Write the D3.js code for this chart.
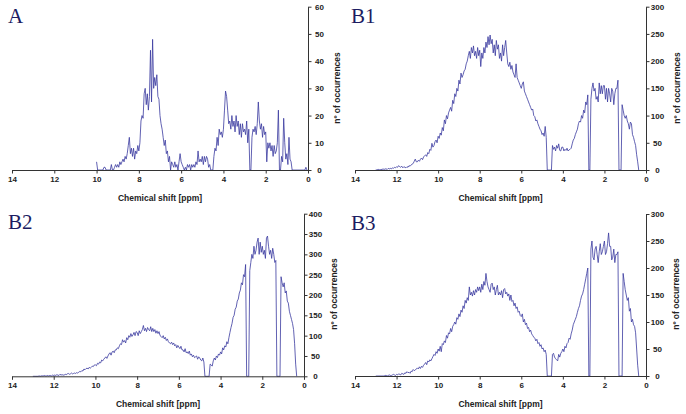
<!DOCTYPE html>
<html><head><meta charset="utf-8">
<script src="https://cdn.jsdelivr.net/npm/d3@7"></script>
<style>body{margin:0;background:#fff}svg{display:block}</style>
</head><body><svg id="c" width="686" height="414"></svg>
<script>
// ---- data ----
const ppmStep = 0.05;
const xTickLabels = [14, 12, 10, 8, 6, 4, 2, 0];
const yTicksA = [0, 10, 20, 30, 40, 50, 60];
const yTicksB1 = [0, 50, 100, 150, 200, 250, 300];
const yTicksB2 = [0, 50, 100, 150, 200, 250, 300, 350, 400];
const yTicksB3 = [0, 50, 100, 150, 200, 250, 300];
const panelLabels = ["A", "B1", "B2", "B3"];
const xTitle = "Chemical shift [ppm]";
const yTitle = "nº of occurrences";

const startA = 10.00;
const valuesA = [
 3,0,0,0,0,0,0,1,1,0, 0,0,0,0,2,0,0,1,2,1,
 2,1,3,2,3,4,3,5,4,6, 9,12,6,8,5,8,4,7,6,9,
 7,10,18,20,19,28,30,24,28,22, 27,44,25,48,30,34,31,35,27,26,
 20,17,15,12,9,11,6,7,3,5, 0,3,2,1,3,1,2,0,3,6,
 3,2,1,0,1,0,2,1,2,0, 2,1,2,1,3,2,7,3,4,3,
 5,2,5,3,5,4,1,2,0,0, 0,5,8,7,12,9,15,13,14,12,
 15,22,29,27,22,17,18,15,20,16, 18,14,20,16,18,13,17,12,17,14,
 15,13,18,10,15,0,0,12,15,14, 16,13,17,25,18,15,17,12,16,13,
 14,3,10,8,10,7,9,5,9,6, 7,10,22,0,0,5,3,19,10,4,
 6,2,12,4,3,0,0,0,0,0, 0,0,0,0,0,0,0,0,1,0
];

const startB1 = 13.00;
const valuesB1 = [
 1,0,1,1,0,1,1,2,1,2, 2,1,3,2,3,2,4,3,5,4,
 6,5,8,6,5,7,4,6,5,4, 6,5,8,7,9,11,12,16,20,15,
 15,18,16,20,22,19,24,26,28,25, 32,30,38,36,49,42,45,52,55,50,
 62,58,68,64,78,72,92,85,100,94, 105,110,115,108,128,122,140,135,150,145,
 165,158,178,170,175,182,185,195,200,210, 218,205,225,215,228,210,218,205,225,210,
 220,190,215,205,225,215,235,225,245,230, 248,232,240,215,230,210,238,222,230,205,
 215,200,230,210,225,238,215,195,190,198, 185,192,180,175,170,195,170,165,160,155,
 150,158,162,145,140,135,130,125,120,115, 110,112,100,98,90,92,85,80,75,72,
 65,68,62,80,60,0,0,0,0,0, 45,38,42,35,45,40,48,36,35,42,
 42,35,38,36,40,35,37,38,40,48, 55,58,65,70,75,85,90,88,100,95,
 110,105,125,120,138,0,0,130,150,160, 145,150,130,135,125,160,140,155,140,155,
 155,130,150,125,150,140,125,150,145,120, 140,150,150,165,0,0,0,120,110,100,
 95,100,90,85,75,88,85,65,60,52, 45,28,15,0
];

const startB2 = 13.00;
const valuesB2 = [
 0,0,0,0,0,0,1,0,1,1, 1,2,1,1,2,1,2,2,1,3,
 2,3,2,4,3,2,5,3,4,3, 3,5,4,6,7,5,6,8,6,7,
 8,7,9,8,10,12,11,14,13,18, 16,19,20,18,22,20,22,25,24,28,
 28,26,32,30,35,33,40,38,42,45, 48,44,50,55,58,52,60,62,58,65,
 65,70,68,75,80,78,90,84,88,82, 95,90,100,96,105,98,102,108,100,110,
 108,100,112,105,110,115,125,112,118,110, 120,115,112,122,110,118,110,115,106,112,
 105,110,100,98,95,100,92,96,88,92, 85,82,80,84,78,82,75,78,70,76,
 72,68,74,65,65,60,68,58,60,56, 62,52,55,48,52,46,48,50,42,48,
 45,40,38,45,35,0,0,0,0,0, 30,28,25,38,45,40,50,46,55,52,
 60,55,70,65,75,72,85,80,95,108, 120,130,145,150,165,170,185,190,205,212,
 230,225,250,245,275,0,0,0,260,280, 300,290,320,300,310,330,340,300,330,305,
 320,300,310,290,340,345,320,300,310,290, 315,300,280,285,0,0,0,0,245,230,
 220,230,205,210,185,180,160,150,140,130, 115,80,30,0
];

const startB3 = 13.00;
const valuesB3 = [
 0,0,0,0,0,0,0,0,0,1, 1,0,1,2,1,1,2,3,2,1,
 3,2,4,3,2,5,4,3,6,5, 8,6,7,5,9,8,12,10,11,13,
 15,13,17,14,18,16,20,22,25,21, 28,26,30,28,32,36,40,38,45,42,
 50,46,55,45,60,58,65,62,75,70, 80,78,88,82,92,95,100,96,108,105,
 115,110,122,118,130,125,140,135,145,140, 165,150,155,148,158,150,160,155,165,158,
 165,155,170,160,175,168,190,175,165,160, 155,170,172,160,165,150,160,168,150,155,
 150,158,145,160,162,152,155,148,152,140, 150,138,140,130,135,125,128,118,120,112,
 110,115,100,105,95,98,88,90,82,85, 78,75,72,70,65,68,60,62,55,58,
 50,52,45,48,40,0,0,0,0,0, 40,42,35,32,30,28,40,35,42,45,
 50,45,55,52,60,62,70,68,78,85, 95,100,105,110,118,125,130,140,148,152,
 160,170,180,190,200,0,0,235,250,220, 215,235,240,225,210,230,245,225,230,240,
 250,225,230,245,265,240,240,215,220,235, 210,225,225,230,0,0,0,0,190,175,
 160,150,140,145,120,125,100,105,95,92, 80,50,20,0
];

// ---- layout ----
const panels = [
  {label: panelLabels[0], start: startA, values: valuesA, ticks: yTicksA, x0: 12, x1: 308, yb: 170, yt: 6.7, lx: 8, ly: 23.3, tx: 337, ty: 88},
  {label: panelLabels[1], start: startB1, values: valuesB1, ticks: yTicksB1, x0: 355, x1: 646, yb: 170, yt: 6.7, lx: 351, ly: 23.3, tx: 677, ty: 88},
  {label: panelLabels[2], start: startB2, values: valuesB2, ticks: yTicksB2, x0: 12, x1: 304, yb: 376.3, yt: 213.7, lx: 8, ly: 229.3, tx: 334, ty: 294},
  {label: panelLabels[3], start: startB3, values: valuesB3, ticks: yTicksB3, x0: 355, x1: 646, yb: 376, yt: 214, lx: 351, ly: 230, tx: 676, ty: 294}
];

const svg = d3.select("#c");
const FONT = "'Liberation Sans', Arial, sans-serif";

panels.forEach(p => {
  const pts = p.values.map((v, i) => ({ppm: p.start - i * ppmStep, v}));
  const x = d3.scaleLinear().domain([14, 0]).range([p.x0, p.x1]);
  const y = d3.scaleLinear().domain([0, d3.max(p.ticks)]).range([p.yb, p.yt]);
  const g = svg.append("g");

  // data line
  g.append("path")
    .datum(pts)
    .attr("fill", "none")
    .attr("stroke", "#3a3aa0")
    .attr("stroke-width", 0.8)
    .attr("stroke-linejoin", "miter")
    .attr("d", d3.line().x(d => x(d.ppm)).y(d => y(d.v)));

  // x axis
  const xa = g.append("g").attr("transform", `translate(0,${p.yb})`)
    .call(d3.axisBottom(x).tickValues(xTickLabels).tickSize(3.5).tickPadding(3).tickSizeOuter(0));
  // y axis
  const ya = g.append("g").attr("transform", `translate(${p.x1},0)`)
    .call(d3.axisRight(y).tickValues(p.ticks).tickSize(3.5).tickPadding(3).tickSizeOuter(0));
  [xa, ya].forEach(a => {
    a.select(".domain").attr("stroke", "#333").attr("stroke-width", 1);
    a.selectAll(".tick line").attr("stroke", "#333");
    a.selectAll(".tick text").attr("font-family", FONT).attr("font-weight", "bold")
      .attr("font-size", 8).attr("fill", "#222");
  });
  ya.selectAll(".tick text").attr("text-anchor", "middle").attr("x", 11.5);

  // titles
  g.append("text").attr("x", (p.x0 + p.x1) / 2).attr("y", p.yb + 31)
    .attr("text-anchor", "middle").attr("font-family", FONT).attr("font-weight", "bold")
    .attr("font-size", 8.5).attr("fill", "#222").text(xTitle);
  g.append("text").attr("transform", `translate(${p.tx},${p.ty}) rotate(-90)`)
    .attr("text-anchor", "middle").attr("dominant-baseline", "central")
    .attr("font-family", FONT).attr("font-weight", "bold")
    .attr("font-size", 8.5).attr("fill", "#222").text(yTitle);

  // panel label
  g.append("text").attr("x", p.lx).attr("y", p.ly)
    .attr("font-family", "'Liberation Serif', 'Times New Roman', serif")
    .attr("font-size", 21).attr("fill", "#1c1c62").text(p.label);
});
</script></body></html>
